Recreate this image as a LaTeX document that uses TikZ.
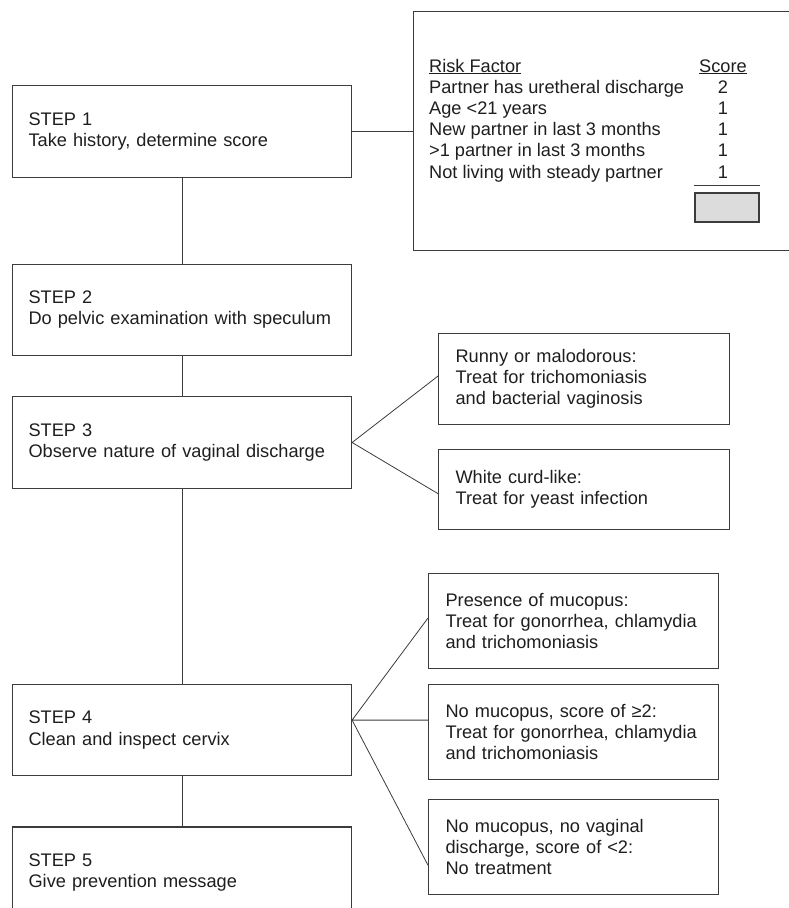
\documentclass[tikz,border=0pt]{standalone}
\usepackage{fontspec}
\setmainfont{Liberation Sans}
\usetikzlibrary{positioning}
\definecolor{ink}{HTML}{1E1E1E}
\definecolor{edge}{HTML}{3C3C3C}
\definecolor{shade}{HTML}{DCDCDC}

\begin{document}
\begin{tikzpicture}[x=1pt,y=-1pt,
	every node/.style={shape=rectangle,inner sep=0pt,text=ink,font=\fontsize{18.2}{21.2}\selectfont},
	stepbox/.style={draw=edge,line width=1.1pt,minimum width=339pt,minimum height=91.5pt,text width=307pt,align=left},
	treatbox/.style={draw=edge,line width=1.1pt,minimum width=290pt,minimum height=95pt,text width=256pt,align=left},
	link/.style={draw=edge,line width=0.8pt}]
	\useasboundingbox (0,0) rectangle (789,908);

	% the steps
	\node (s1) [stepbox,anchor=north west] at (12,85) {STEP 1\\Take history, determine score};
	\node (s2) [stepbox,below=86pt of s1] {STEP 2\\Do pelvic examination with speculum};
	\node (s3) [stepbox,below=40pt of s2] {STEP 3\\Observe nature of vaginal discharge};
	\node (s4) [stepbox,below=195pt of s3] {STEP 4\\Clean and inspect cervix};
	\node (s5) [stepbox,below=50pt of s4] {STEP 5\\Give prevention message};

	% risk score table
	\node (risk) [draw=edge,line width=1.1pt,minimum width=390pt,minimum height=239pt,right=61pt of s1] {};
	\node (factors) [anchor=base west] at (429,72) {\begin{tabular}[t]{@{}p{270pt}@{}c@{}}
		\underline{Risk Factor} & \underline{Score}\\
		Partner has uretheral discharge & 2\\
		Age <21 years & 1\\
		New partner in last 3 months & 1\\
		>1 partner in last 3 months & 1\\
		Not living with steady partner & 1
	\end{tabular}};
	\node (total) [draw=edge,fill=shade,line width=1.1pt,minimum width=64pt,minimum height=29pt] at (727,207.5) {};

	% treatments
	\node (runny) [treatbox,anchor=north west,minimum width=291pt,text width=257pt,minimum height=91pt] at (438,333) {Runny or malodorous:\\Treat for trichomoniasis\\and bacterial vaginosis};
	\node (curd) [treatbox,minimum width=291pt,text width=257pt,minimum height=80pt,below=24pt of runny] {White curd-like:\\Treat for yeast infection};
	\node (mucopus) [treatbox,anchor=north west] at (428,573) {Presence of mucopus:\\Treat for gonorrhea, chlamydia\\and trichomoniasis};
	\node (score2) [treatbox,below=15pt of mucopus] {No mucopus, score of ≥2:\\Treat for gonorrhea, chlamydia\\and trichomoniasis};
	\node (notreat) [treatbox,below=19pt of score2] {No mucopus, no vaginal\\discharge, score of <2:\\No treatment};

	% connect the nodes
	\draw[link] (s1) -- (s2);
	\draw[link] (s2) -- (s3);
	\draw[link] (s3) -- (s4);
	\draw[link] (s4) -- (s5);
	\draw[link] (s1.east) -- (s1.east -| risk.west);
	\draw[link] ([yshift=7pt]total.north west) -- ([yshift=7pt]total.north east);
	\draw[link] ([yshift=3pt]runny.west) -- (s3.east) -- ([yshift=-4pt]curd.west);
	\coordinate (split4) at ([yshift=10pt]s4.east);
	\draw[link] ([yshift=3pt]mucopus.west) -- (split4) -- (split4 -| score2.west);
	\draw[link] (split4) -- ([yshift=-18pt]notreat.west);
\end{tikzpicture}
\end{document}
